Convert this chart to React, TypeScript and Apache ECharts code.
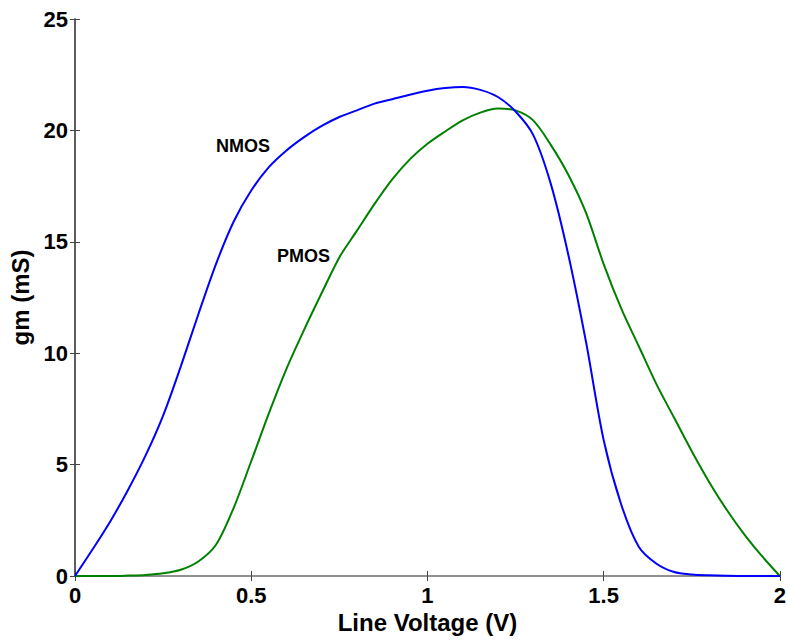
import React, { useEffect, useRef } from "react";
import * as echarts from "echarts";

const voltage = [
  0, 0.05, 0.1, 0.15, 0.2, 0.25, 0.3, 0.35, 0.4, 0.45, 0.5, 0.55, 0.6, 0.65, 0.7, 0.75, 0.8, 0.85, 0.9, 0.95,
  1.0, 1.05, 1.1, 1.15, 1.2, 1.25, 1.3, 1.35, 1.4, 1.45, 1.5, 1.55, 1.6, 1.65, 1.7, 1.75, 1.8, 1.85, 1.9, 1.95, 2.0,
];
const nmos = [
  0, 1.2, 2.45, 3.85, 5.4, 7.2, 9.4, 11.75, 14.0, 15.9, 17.3, 18.35, 19.1, 19.7, 20.2, 20.6, 20.9, 21.2, 21.4, 21.6,
  21.78, 21.9, 21.95, 21.82, 21.5, 20.85, 19.8, 17.6, 14.4, 10.5, 6.1, 3.2, 1.3, 0.55, 0.18, 0.07, 0.03, 0.01, 0, 0, 0,
];
const pmos = [
  0, 0, 0, 0.02, 0.05, 0.12, 0.28, 0.65, 1.4, 3.05, 5.15, 7.3, 9.3, 11.05, 12.7, 14.3, 15.5, 16.7, 17.8, 18.7,
  19.4, 19.95, 20.45, 20.8, 20.98, 20.9, 20.45, 19.35, 18.0, 16.3, 14.0, 12.0, 10.3, 8.6, 7.1, 5.6, 4.2, 2.95, 1.85, 0.88, 0,
];
const xTicks = [0, 0.5, 1, 1.5, 2];
const yTicks = [0, 5, 10, 15, 20, 25];
const seriesNames = ["NMOS", "PMOS"];

const FONT = "'Liberation Sans', Arial, Helvetica, sans-serif";

export default function App() {
  const ref = useRef<HTMLDivElement>(null);
  useEffect(() => {
    if (!ref.current) return;
    const chart = echarts.init(ref.current, undefined, { renderer: "svg" });
    const tickStyle = { show: true, inside: true, length: 5, lineStyle: { color: "#444", width: 1 } };
    const hiddenLabel = { show: false };
    chart.setOption({
      animation: false,
      backgroundColor: "#fff",
      grid: { left: 75, top: 19, right: 7, bottom: 66, containLabel: false },
      xAxis: [
        {
          type: "value",
          min: xTicks[0],
          max: xTicks[xTicks.length - 1],
          interval: 0.5,
          position: "bottom",
          name: "Line Voltage (V)",
          nameLocation: "middle",
          nameGap: 30,
          nameTextStyle: { fontFamily: FONT, fontWeight: "bold", fontSize: 24, color: "#000" },
          axisLine: { show: true, lineStyle: { color: "#8a8a8a", width: 1.5 } },
          axisTick: tickStyle,
          axisLabel: { fontFamily: FONT, fontWeight: "bold", fontSize: 22, color: "#000", margin: 8 },
          splitLine: { show: false },
        },
        {
          type: "value",
          min: xTicks[0],
          max: xTicks[xTicks.length - 1],
          interval: 0.5,
          position: "top",
          axisLine: { show: true, lineStyle: { color: "#8a8a8a", width: 1.5 } },
          axisTick: tickStyle,
          axisLabel: hiddenLabel,
          splitLine: { show: false },
        },
      ],
      yAxis: [
        {
          type: "value",
          min: yTicks[0],
          max: yTicks[yTicks.length - 1],
          interval: 5,
          position: "left",
          name: "gm (mS)",
          nameLocation: "middle",
          nameGap: 41,
          nameTextStyle: { fontFamily: FONT, fontWeight: "bold", fontSize: 24, color: "#000" },
          axisLine: { show: true, lineStyle: { color: "#8a8a8a", width: 1.5 } },
          axisTick: tickStyle,
          axisLabel: { fontFamily: FONT, fontWeight: "bold", fontSize: 22, color: "#000", margin: 7 },
          splitLine: { show: false },
        },
        {
          type: "value",
          min: yTicks[0],
          max: yTicks[yTicks.length - 1],
          interval: 5,
          position: "right",
          axisLine: { show: true, lineStyle: { color: "#444", width: 1.5 } },
          axisTick: tickStyle,
          axisLabel: hiddenLabel,
          splitLine: { show: false },
        },
      ],
      series: [
        {
          name: seriesNames[0],
          type: "line",
          xAxisIndex: 0,
          yAxisIndex: 0,
          data: voltage.map((v, i) => [v, nmos[i]]),
          showSymbol: false,
          smooth: 0.3,
          lineStyle: { color: "#0000ff", width: 2 },
          z: 3,
        },
        {
          name: seriesNames[1],
          type: "line",
          xAxisIndex: 0,
          yAxisIndex: 0,
          data: voltage.map((v, i) => [v, pmos[i]]),
          showSymbol: false,
          smooth: 0.3,
          lineStyle: { color: "#008000", width: 2 },
          z: 2,
        },
      ],
      graphic: [
        {
          type: "text",
          left: 216,
          top: 137,
          style: { text: seriesNames[0], font: `bold 18px ${FONT}`, fill: "#000" },
        },
        {
          type: "text",
          left: 277,
          top: 247,
          style: { text: seriesNames[1], font: `bold 18px ${FONT}`, fill: "#000" },
        },
      ],
    });
    return () => chart.dispose();
  }, []);
  return <div ref={ref} style={{ width: 789, height: 642, position: "absolute", left: 0, top: 0 }} />;
}
